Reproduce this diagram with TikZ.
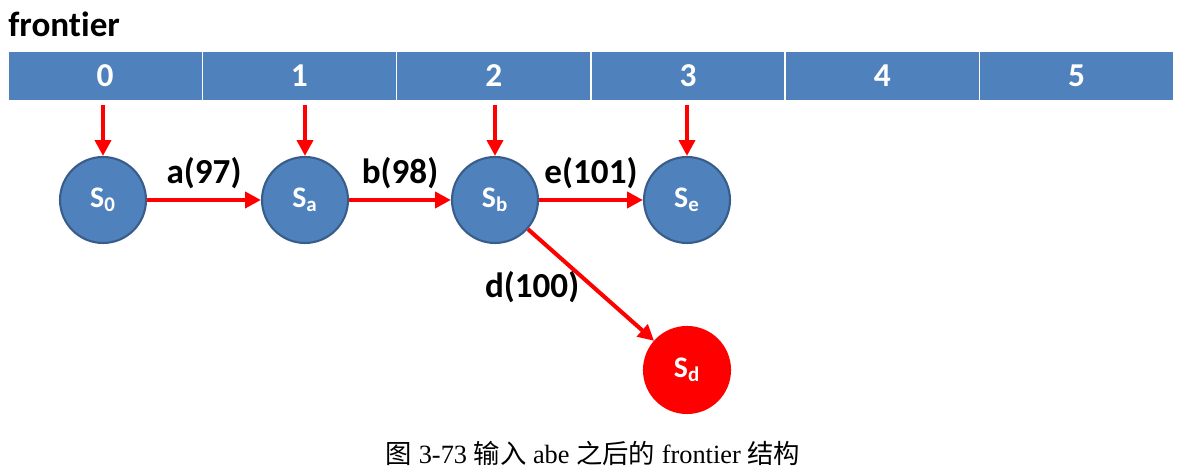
\documentclass[tikz,border=0pt]{standalone}
\usepackage{fontspec}
\setmainfont[Ligatures=NoCommon]{Carlito}
\newfontfamily\capfont{Liberation Serif}
\newfontfamily\cjk{Noto Sans CJK SC}
\usetikzlibrary{arrows.meta,positioning}
\definecolor{cellblue}{HTML}{4F81BD}
\definecolor{rimblue}{HTML}{385D8A}
\definecolor{hotred}{HTML}{FF0000}
\tikzset{
  cell/.style={rectangle,fill=cellblue,draw=white,line width=0.8pt,minimum width=3.886cm,
    minimum height=0.98cm,inner sep=0pt,text=white,font=\fontsize{19}{22}\selectfont\bfseries},
  state/.style={circle,fill=cellblue,draw=rimblue,line width=1.2pt,minimum size=1.72cm,
    inner sep=0pt,text=white,font=\fontsize{17}{20}\selectfont\bfseries},
  hotstate/.style={state,fill=hotred,draw=hotred},
  link/.style={draw=hotred,line width=2.3pt,-{Triangle[length=9pt,width=9pt]}},
  lab/.style={font=\fontsize{20}{23}\selectfont\bfseries,inner sep=1pt}
}
\begin{document}
\begin{tikzpicture}[x=0.02cm,y=0.02cm]
    \useasboundingbox (0,0) rectangle (1181,475);
    \node[font=\fontsize{20}{23}\selectfont\bfseries,anchor=west,inner sep=0pt] (title) at (8,451) {frontier};
    \foreach \i in {0,...,5}
      \node[cell] (c\i) at ({105.15+194.3*\i},399) {\i};
    \node[state] (s0) at (103,275) {S\textsubscript{0}};
    \node[state] (sa) at (305,275) {S\textsubscript{a}};
    \node[state] (sb) at (495,275) {S\textsubscript{b}};
    \node[state] (se) at (687,275) {S\textsubscript{e}};
    \node[hotstate] (sd) at (687,105) {S\textsubscript{d}};
    \foreach \c/\s in {c0/s0,c1/sa,c2/sb,c3/se}
      \draw[link] ([yshift=-2pt]\s.north |- \c.south) -- (\s.north);
    \draw[link] (s0) -- node[lab,above=4pt] {a(97)} (sa);
    \draw[link] (sa) -- node[lab,above=4pt] {b(98)} (sb);
    \draw[link] (sb) -- node[lab,above=4pt] {e(101)} (se);
    \draw[link] (sb) -- node[lab,pos=0.52,left=6pt] {d(100)} (sd);
    \node[font=\fontsize{15}{18}\selectfont\capfont] (caption) at (593,22)
      {{\cjk 图} 3-73 {\cjk 输入} abe {\cjk 之后的} frontier {\cjk 结构}};
  \end{tikzpicture}
\end{document}
